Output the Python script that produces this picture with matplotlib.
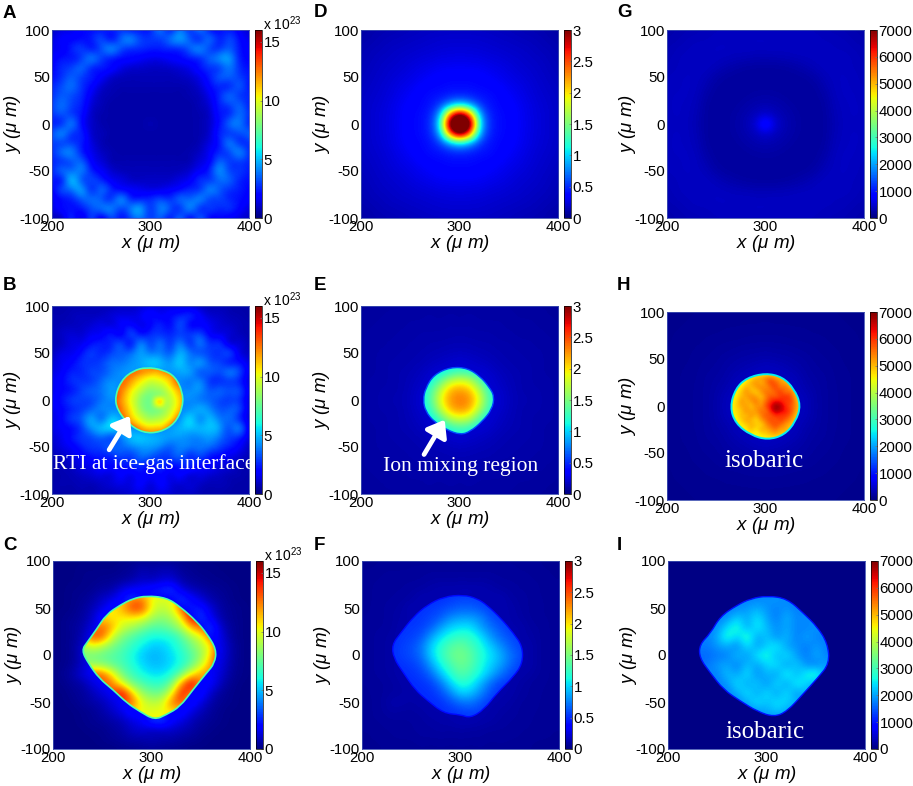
import numpy as np
import matplotlib
matplotlib.use('Agg')
import matplotlib.pyplot as plt
from matplotlib.path import Path
from matplotlib.patches import PathPatch

plt.rcParams['font.family'] = ['Liberation Sans', 'DejaVu Sans']
plt.rcParams['axes.unicode_minus'] = False
plt.rcParams['mathtext.default'] = 'regular'

# values, rows y=100..-100, columns x=200..400, steps of 10 um
# A,B,C in 1e22, D,E,F in 0.01, G,H,I in 10
panel_a = [
[10,14,16,20,22,24,24,28,26,24,26,36,28,38,30,36,26,22,24,18,12],
[14,18,20,22,24,30,26,34,38,30,28,30,36,42,34,30,34,26,30,22,16],
[16,18,24,28,26,32,38,32,28,26,24,24,26,28,34,38,32,30,34,24,18],
[18,22,24,30,36,30,26,22,20,18,16,16,18,20,24,28,34,40,42,26,20],
[20,26,30,34,28,24,20,15,12,11,10,10,11,13,16,22,28,32,38,28,22],
[22,28,34,30,24,18,12,9,8,8,8,8,8,9,11,16,24,32,34,30,24],
[26,32,36,28,20,12,8,7,7,7,7,7,7,7,8,12,20,26,28,32,24],
[28,34,32,26,16,9,7,6,6,6,6,6,6,6,7,9,16,26,34,30,26],
[30,36,30,24,13,8,6,6,6,6,6,6,6,6,6,8,13,24,30,34,26],
[28,32,30,22,11,7,6,6,6,6,6,6,6,6,6,7,11,22,28,36,28],
[26,30,36,22,11,7,6,6,6,6,7,6,6,6,6,7,11,22,34,38,28],
[32,38,30,24,12,8,6,6,6,6,6,6,6,6,6,7,12,24,30,32,34],
[30,32,30,24,14,8,6,6,6,6,6,6,6,6,6,8,14,24,36,30,28],
[28,36,38,26,16,10,7,6,6,6,6,6,6,6,7,10,17,26,32,38,28],
[26,30,34,34,20,13,8,7,7,7,7,7,7,7,8,13,20,34,30,30,26],
[26,34,38,38,26,18,12,9,8,8,8,8,8,9,12,18,26,40,32,28,24],
[24,28,46,36,30,26,18,14,11,10,10,10,11,14,18,26,30,36,34,26,22],
[20,30,38,42,30,34,26,22,18,16,15,16,18,22,26,30,38,34,28,24,20],
[16,22,26,34,36,34,30,38,28,26,26,30,28,34,36,38,32,30,26,22,18],
[14,20,22,24,32,36,38,32,38,42,30,38,32,30,38,30,28,26,26,20,14],
[9,12,24,16,28,20,30,24,32,38,30,34,26,34,24,32,22,20,18,14,10],
]
panel_b = [
[6,6,7,7,8,8,8,10,10,12,14,14,14,14,13,10,8,8,7,6,6],
[7,7,8,9,9,10,12,14,14,16,20,18,20,24,24,18,12,10,8,7,6],
[7,8,9,10,12,14,14,18,20,16,20,24,22,30,22,20,16,12,10,8,7],
[8,10,12,12,16,18,22,20,28,24,26,28,26,30,28,30,20,16,12,9,7],
[8,10,14,16,22,24,26,30,26,38,32,36,30,38,30,36,28,26,16,12,8],
[9,14,16,22,28,26,30,34,36,44,40,40,36,46,38,34,30,28,28,16,10],
[12,16,20,26,28,30,36,38,42,46,50,48,44,50,42,42,34,30,26,22,14],
[14,18,24,26,30,32,38,42,44,44,44,44,44,46,44,36,34,32,36,30,16],
[16,20,26,28,30,36,42,42,42,42,42,42,42,42,40,40,30,28,30,26,14],
[16,20,24,30,34,38,44,42,42,42,42,42,42,42,42,42,34,34,32,30,16],
[18,22,28,30,32,38,42,42,42,42,42,42,42,42,42,40,36,32,30,28,14],
[16,20,26,30,36,40,42,42,42,42,42,42,42,42,44,46,42,34,34,30,14],
[14,20,28,34,44,40,50,46,42,42,42,42,42,44,52,44,48,40,36,28,14],
[14,18,22,30,42,48,52,48,44,42,42,42,44,48,50,48,50,44,34,36,16],
[12,16,22,28,32,36,34,40,48,50,48,46,44,44,42,42,44,38,30,26,14],
[10,14,18,24,28,30,34,36,40,44,44,40,36,40,38,38,36,30,24,18,10],
[8,10,14,18,22,24,26,30,30,36,34,30,30,34,28,30,24,20,16,12,8],
[7,8,10,14,16,20,20,22,24,26,22,26,22,24,24,20,18,14,12,8,7],
[6,7,8,10,12,14,14,18,16,20,18,20,16,18,14,14,12,10,8,7,6],
[6,7,7,8,8,10,12,14,14,18,14,18,14,12,12,10,8,8,7,6,6],
[6,6,6,7,7,8,8,10,12,14,12,14,12,10,10,8,7,7,6,6,6],
]
panel_c = [
[1,1,1,1,1,1,1,2,2,3,3,3,3,2,2,1,1,1,1,1,1],
[1,1,1,2,2,2,2,3,4,8,6,8,8,4,3,2,2,1,1,1,1],
[1,1,1,2,2,3,3,4,6,10,8,12,12,6,4,3,2,2,1,1,1],
[1,1,2,2,3,5,6,14,18,20,24,26,30,14,8,6,4,3,2,1,1],
[1,1,2,3,5,10,14,22,30,18,18,18,18,30,20,12,6,4,2,1,1],
[1,1,2,4,8,14,24,20,18,18,18,18,18,18,24,24,12,5,3,2,1],
[1,2,3,5,10,24,18,18,18,18,18,18,18,18,18,30,16,6,3,2,1],
[1,2,4,6,14,18,18,18,18,18,18,18,18,18,18,18,30,10,4,2,1],
[1,2,3,8,18,18,18,18,18,18,18,18,18,18,18,18,24,14,4,2,1],
[1,2,4,10,18,18,18,18,18,18,18,18,18,18,18,18,18,16,6,2,1],
[1,2,3,12,18,18,18,18,18,18,18,18,18,18,18,18,18,16,6,2,1],
[1,2,4,10,18,18,18,18,18,18,18,18,18,18,18,18,18,14,5,2,1],
[1,3,6,14,18,18,18,18,18,18,18,18,18,18,18,18,18,12,4,2,1],
[1,2,4,6,14,18,18,18,18,18,18,18,18,18,18,18,20,8,3,1,1],
[1,1,3,4,8,14,18,18,18,18,18,18,18,18,18,24,10,4,2,1,1],
[1,1,2,4,6,8,14,18,18,18,18,18,18,18,24,14,6,3,2,1,1],
[1,1,1,2,3,6,10,16,24,18,18,18,18,24,14,8,4,2,1,1,1],
[1,1,1,2,3,4,6,8,14,18,30,32,20,14,8,5,3,2,1,1,1],
[1,1,1,1,2,2,4,6,10,12,8,10,10,8,6,3,2,1,1,1,1],
[1,1,1,1,1,2,3,4,6,6,8,6,6,4,3,2,1,1,1,1,1],
[1,1,1,1,1,1,1,2,2,3,3,3,2,2,1,1,1,1,1,1,1],
]
panel_d = [
[10,12,13,14,15,16,17,18,18,19,19,19,18,18,17,16,15,14,13,12,10],
[12,13,15,16,17,18,19,20,21,21,21,21,21,20,19,18,17,16,15,13,12],
[13,15,16,18,19,20,21,22,23,24,24,24,23,22,21,20,19,18,16,15,13],
[14,16,18,19,21,22,24,25,27,27,28,27,27,25,24,22,21,19,18,16,14],
[15,17,19,21,22,25,27,29,31,32,32,32,31,29,27,25,22,21,19,17,15],
[16,18,20,22,25,27,30,33,36,38,38,38,36,33,30,27,25,22,20,18,16],
[17,19,21,24,27,30,34,38,39,40,40,40,39,38,34,30,27,24,21,19,17],
[18,20,22,25,29,33,38,41,42,46,48,46,42,41,38,33,29,25,22,20,18],
[18,21,23,27,31,36,39,42,55,85,105,85,55,42,39,36,31,27,23,21,18],
[19,21,24,27,32,38,40,46,85,250,345,250,85,46,40,38,32,27,24,21,19],
[19,21,24,28,32,38,40,48,105,345,380,345,105,48,40,38,32,28,24,21,19],
[19,21,24,27,32,38,40,46,85,250,345,250,85,46,40,38,32,27,24,21,19],
[18,21,23,27,31,36,39,42,55,85,105,85,55,42,39,36,31,27,23,21,18],
[18,20,22,25,29,33,38,41,42,46,48,46,42,41,38,33,29,25,22,20,18],
[17,19,21,24,27,30,34,38,39,40,40,40,39,38,34,30,27,24,21,19,17],
[16,18,20,22,25,27,30,33,36,38,38,38,36,33,30,27,25,22,20,18,16],
[15,17,19,21,22,25,27,29,31,32,32,32,31,29,27,25,22,21,19,17,15],
[14,16,18,19,21,22,24,25,27,27,28,27,27,25,24,22,21,19,18,16,14],
[13,15,16,18,19,20,21,22,23,24,24,24,23,22,21,20,19,18,16,15,13],
[12,13,15,16,17,18,19,20,21,21,21,21,21,20,19,18,17,16,15,13,12],
[10,12,13,14,15,16,17,18,18,19,19,19,18,18,17,16,15,14,13,12,10],
]
panel_e = [
[8,8,9,9,9,10,10,10,9,10,10,10,9,10,10,9,9,9,8,8,8],
[8,9,9,10,10,10,10,11,10,11,10,11,10,10,10,10,9,9,9,8,8],
[9,9,10,10,10,11,11,11,11,12,11,12,11,11,11,10,10,10,9,9,8],
[9,10,10,10,11,11,12,12,12,12,13,12,12,12,11,11,10,10,10,9,9],
[9,10,10,11,11,12,12,13,13,14,14,14,13,13,12,12,11,11,10,10,9],
[9,10,11,11,12,12,13,14,15,16,17,16,15,14,13,12,12,11,11,10,9],
[10,10,11,12,12,13,14,16,18,20,22,20,18,16,14,13,12,12,11,10,10],
[10,10,11,12,13,14,16,20,22,22,22,22,22,20,16,14,13,12,11,10,10],
[10,11,11,12,13,15,18,22,22,22,22,22,22,22,18,15,13,12,11,11,10],
[10,11,12,12,13,16,20,22,22,22,22,22,22,22,20,16,13,12,12,11,10],
[10,11,12,13,14,16,22,22,22,22,22,22,22,22,22,16,14,13,12,11,10],
[10,11,12,12,13,16,20,22,22,22,22,22,22,22,20,16,13,12,12,11,10],
[10,11,11,12,13,15,18,22,22,22,22,22,22,22,18,15,13,12,11,11,10],
[10,10,11,12,13,14,16,20,22,22,22,22,22,20,16,14,13,12,11,10,10],
[10,10,11,12,12,13,14,16,18,20,22,20,18,16,14,13,12,12,11,10,10],
[9,10,11,11,12,12,13,14,15,16,17,16,15,14,13,12,12,11,11,10,9],
[9,10,10,11,11,12,12,13,13,14,14,14,13,13,12,12,11,11,10,10,9],
[9,10,10,10,11,11,12,12,12,12,13,12,12,12,11,11,10,10,10,9,9],
[9,9,10,10,10,11,11,11,11,12,11,12,11,11,11,10,10,10,9,9,8],
[8,9,9,10,10,10,10,11,10,11,10,11,10,10,10,10,9,9,9,8,8],
[8,8,9,9,9,10,10,10,9,10,10,10,9,10,10,9,9,9,8,8,8],
]
panel_f = [
[5,5,6,6,6,7,6,7,6,7,6,7,6,7,6,7,6,6,6,5,5],
[6,6,7,7,7,7,8,8,8,8,8,8,8,8,8,8,7,7,6,6,5],
[6,7,7,8,8,8,8,9,10,9,10,9,10,9,8,8,8,7,7,6,6],
[6,7,8,8,8,9,10,12,13,13,14,14,13,12,10,9,8,8,7,6,6],
[6,7,8,8,9,10,14,12,12,12,12,12,12,12,14,10,9,8,7,7,6],
[7,7,8,9,10,14,12,12,12,12,12,12,12,12,12,12,9,8,7,7,6],
[7,7,8,9,11,12,12,12,12,12,12,12,12,12,12,12,10,8,7,7,6],
[7,8,8,9,12,12,12,12,12,12,12,12,12,12,12,12,12,9,8,7,6],
[7,8,9,10,12,12,12,12,12,12,12,12,12,12,12,12,12,10,8,7,6],
[7,8,9,10,12,12,12,12,12,12,12,12,12,12,12,12,12,12,8,7,6],
[7,8,9,10,12,12,12,12,12,12,12,12,12,12,12,12,12,12,8,7,6],
[7,8,9,10,12,12,12,12,12,12,12,12,12,12,12,12,12,12,8,7,6],
[7,8,9,10,12,12,12,12,12,12,12,12,12,12,12,12,12,10,8,7,6],
[7,7,8,9,11,12,12,12,12,12,12,12,12,12,12,12,10,8,7,7,6],
[7,7,8,9,10,12,12,12,12,12,12,12,12,12,12,12,9,8,7,7,6],
[6,7,8,12,12,10,12,12,12,12,12,12,12,12,12,10,8,8,7,6,6],
[6,7,8,10,9,9,10,12,12,12,12,12,12,12,10,9,8,7,7,6,6],
[6,7,7,8,8,8,9,10,11,12,14,14,12,11,9,8,8,7,7,6,6],
[6,6,7,7,8,8,9,9,10,9,10,9,9,8,8,8,7,7,6,6,6],
[5,6,6,7,7,7,8,8,8,8,8,8,8,7,8,7,7,6,6,6,5],
[5,5,6,6,6,6,7,6,7,6,7,6,7,6,6,6,6,6,5,5,5],
]
panel_g = [
[28,30,32,34,36,38,38,40,40,38,38,38,40,40,38,38,36,34,32,30,28],
[30,32,36,38,38,40,40,42,40,42,42,40,42,40,40,40,38,38,36,32,30],
[32,36,38,40,40,42,42,40,42,40,40,42,40,42,42,40,40,38,38,36,32],
[34,38,40,40,42,40,38,36,34,32,32,32,34,36,38,40,42,40,40,38,34],
[36,38,40,42,40,36,30,25,22,21,20,21,22,25,30,36,40,42,40,38,36],
[38,40,42,40,36,26,21,20,19,19,19,19,19,20,21,26,36,40,42,40,36],
[38,40,42,40,30,21,20,19,19,20,20,20,19,19,20,21,30,40,42,40,38],
[40,42,42,38,25,20,19,19,21,24,25,24,21,19,19,20,25,38,42,42,38],
[40,42,40,36,22,19,19,21,26,30,32,30,26,21,19,19,22,36,40,42,40],
[40,42,40,34,21,19,20,24,30,36,52,36,30,24,20,19,21,34,40,42,40],
[40,40,40,32,21,19,20,25,32,52,125,52,32,25,20,19,21,32,40,40,40],
[40,42,40,34,21,19,20,24,30,36,52,36,30,24,20,19,21,34,40,42,40],
[40,42,40,36,22,19,19,21,26,30,32,30,26,21,19,19,22,36,40,42,40],
[40,42,42,38,25,20,19,19,21,24,25,24,21,19,19,20,25,38,42,42,38],
[38,40,42,40,30,21,20,19,19,20,20,20,19,19,20,21,30,40,42,40,38],
[38,40,42,40,36,26,21,20,19,19,19,19,19,20,21,26,36,40,42,40,36],
[36,38,40,42,40,36,30,25,22,21,20,21,22,25,30,36,40,42,40,38,36],
[34,38,40,40,42,40,38,36,34,32,32,32,34,36,38,40,42,40,40,38,34],
[32,36,38,40,40,42,42,40,42,40,40,42,40,42,42,40,40,38,38,36,32],
[30,32,36,38,38,40,40,42,40,42,42,40,42,40,40,40,38,38,36,32,30],
[28,30,32,34,36,38,38,40,40,38,38,38,40,40,38,38,36,34,32,30,28],
]
panel_h = [
[10,10,10,11,11,12,12,12,12,12,12,12,12,12,12,12,11,11,10,10,10],
[10,10,11,12,12,12,13,13,13,13,14,13,13,13,13,12,12,12,11,10,10],
[10,11,12,12,13,13,14,14,15,15,15,15,15,14,14,13,13,12,12,11,10],
[10,12,12,13,14,15,16,16,17,18,18,18,17,16,16,15,14,13,12,12,10],
[11,12,13,14,15,17,18,20,22,22,24,22,22,20,18,17,15,14,13,12,11],
[11,12,13,15,17,18,22,24,26,28,30,28,26,24,22,18,17,15,13,12,11],
[11,13,14,16,18,20,24,28,32,36,40,38,34,28,24,20,18,16,14,13,11],
[12,13,15,16,20,22,26,34,38,40,40,40,38,36,26,22,20,16,15,13,12],
[12,13,15,17,20,24,30,38,40,40,40,40,40,38,30,24,20,17,15,13,12],
[12,13,15,17,20,26,36,40,40,40,40,40,40,40,36,26,20,17,15,13,12],
[12,13,15,17,20,26,38,40,40,40,40,40,40,40,38,26,20,17,15,13,12],
[12,13,15,17,20,26,36,40,40,40,40,40,40,40,36,26,20,17,15,13,12],
[12,13,15,17,20,24,30,38,40,40,40,40,40,38,30,24,20,17,15,13,12],
[12,13,15,16,20,22,26,34,38,40,40,40,38,36,26,22,20,16,15,13,12],
[11,13,14,16,18,20,24,28,32,38,40,38,34,28,24,20,18,16,14,13,11],
[11,12,13,15,17,18,22,24,26,28,30,28,26,24,22,18,17,15,13,12,11],
[11,12,13,14,15,17,18,20,22,22,24,22,22,20,18,17,15,14,13,12,11],
[10,12,12,13,14,15,16,16,17,18,18,18,17,16,16,15,14,13,12,12,10],
[10,11,12,12,13,13,14,14,15,15,15,15,15,14,14,13,13,12,12,11,10],
[10,10,11,12,12,12,13,13,13,13,14,13,13,13,13,12,12,12,11,10,10],
[10,10,10,11,11,12,12,12,12,12,12,12,12,12,12,12,11,11,10,10,10],
]
panel_i = [[4] * 21 for row in range(21)]

# inner regions, drawn over the panels and cut along the outlines below
# B and H: x=260..340, y=40..-40, steps of 5 um
core_b = [
[115,115,115,115,115,115,115,118,118,118,118,118,118,115,115,115,115],
[115,115,115,115,115,120,118,120,125,125,125,120,120,125,120,115,115],
[115,115,115,115,130,128,125,120,118,115,120,125,128,135,130,115,115],
[115,115,115,130,125,118,112,108,105,105,108,112,118,128,140,125,115],
[115,115,130,125,118,110,105,100,95,98,100,105,112,125,135,130,115],
[115,120,128,122,112,105,98,92,88,90,92,98,108,118,125,125,118],
[115,130,125,115,105,98,92,85,82,85,85,92,100,110,118,122,118],
[120,135,122,112,102,95,85,80,78,80,82,88,95,105,115,120,118],
[125,130,120,110,100,92,82,78,76,105,115,90,92,102,112,120,118],
[125,130,122,112,102,92,82,78,76,100,110,85,92,102,112,125,118],
[120,135,125,115,105,95,85,78,78,78,80,88,95,105,115,128,118],
[115,125,128,118,108,98,90,85,80,82,85,90,100,110,122,132,118],
[115,120,135,122,112,105,98,90,88,90,92,98,105,118,135,130,115],
[115,115,125,135,120,112,105,100,98,100,100,108,118,138,148,120,115],
[115,115,115,130,145,128,118,112,110,112,112,118,130,145,135,115,115],
[115,115,115,115,130,140,130,125,122,122,125,128,135,130,120,115,115],
[115,115,115,115,115,120,125,125,125,125,125,125,125,120,115,115,115],
]
core_h = [
[430,430,430,430,430,430,430,430,430,430,430,430,430,430,430,430,430],
[430,430,430,430,430,430,440,440,450,450,450,450,440,430,430,430,430],
[430,430,430,430,440,470,500,520,540,560,520,500,480,440,430,430,430],
[430,430,430,440,470,510,530,500,540,590,570,530,510,470,440,430,430],
[430,430,440,460,510,490,520,540,520,560,590,540,560,500,450,430,430],
[430,430,450,490,530,500,480,520,560,540,570,600,540,570,480,440,430],
[430,440,460,500,510,540,520,490,540,580,560,590,610,580,510,450,430],
[440,450,470,530,500,520,550,510,560,600,640,620,590,600,530,460,440],
[440,450,480,510,520,490,530,520,580,640,690,670,610,570,540,470,440],
[440,450,470,490,530,510,520,560,540,620,680,650,620,590,520,470,440],
[430,440,460,500,490,530,500,540,580,560,610,590,600,560,500,450,430],
[430,430,450,480,520,500,470,520,550,590,560,600,560,530,480,440,430],
[430,430,440,460,480,510,490,470,530,560,590,550,520,500,460,430,430],
[430,430,430,440,460,500,460,510,500,530,550,510,520,470,440,430,430],
[430,430,430,430,440,460,440,470,480,500,510,490,470,440,430,430,430],
[430,430,430,430,430,430,440,430,450,450,450,450,440,430,430,430,430],
[430,430,430,430,430,430,430,430,430,430,430,430,430,430,430,430,430],
]
# E: x=260..340, y=40..-40, steps of 10 um
core_e = [
[95,95,100,105,110,105,100,95,95],
[95,100,105,115,125,120,110,100,95],
[100,110,135,170,185,175,140,105,100],
[105,125,170,215,225,215,170,125,105],
[105,130,185,225,235,230,190,130,110],
[105,120,170,215,230,220,170,125,105],
[100,105,130,170,185,175,135,105,100],
[95,100,105,120,130,125,105,100,95],
[95,95,100,105,110,105,100,95,95],
]
# C, F, I: x=220..380, y=70..-70, steps of 10 um
core_c = [
[95,95,95,95,95,95,95,100,110,105,95,95,95,95,95,95,95],
[95,95,95,95,95,110,125,125,100,98,100,120,135,120,95,95,95],
[95,95,95,100,105,115,135,135,100,92,98,130,150,130,100,95,95],
[95,95,100,110,105,105,105,100,88,82,88,105,150,140,115,95,95],
[95,100,120,130,115,95,88,80,72,72,78,90,115,130,130,110,95],
[95,110,135,130,95,80,72,65,60,60,62,72,88,100,130,130,95],
[90,85,100,90,80,72,65,58,52,52,58,66,78,90,105,140,110],
[80,78,78,75,72,68,60,52,48,50,55,62,72,85,110,150,120],
[85,85,85,82,75,70,62,55,50,50,55,62,75,95,120,145,110],
[100,110,135,130,105,78,68,60,56,56,62,78,105,120,125,100,95],
[95,100,115,135,125,100,78,72,65,65,78,120,155,120,95,95,95],
[95,95,100,110,135,150,110,85,78,78,100,145,125,100,95,95,95],
[95,95,95,100,105,140,130,100,92,95,125,135,105,95,95,95,95],
[95,95,95,95,95,105,105,100,100,102,105,105,95,95,95,95,95],
[95,95,95,95,95,95,100,105,105,105,100,95,95,95,95,95,95],
]
core_f = [
[50,50,50,50,50,50,50,50,50,50,50,50,50,50,50,50,50],
[50,50,50,50,50,50,52,55,58,58,55,52,50,50,50,50,50],
[50,50,50,50,52,55,58,62,66,66,62,56,52,50,50,50,50],
[50,50,50,52,54,58,65,80,85,85,78,62,56,52,50,50,50],
[50,50,52,54,56,65,85,100,105,105,85,72,62,54,50,50,50],
[50,50,54,56,62,85,105,118,125,120,105,82,68,60,54,50,50],
[50,50,56,60,72,100,120,135,142,130,115,98,80,65,58,52,50],
[50,52,56,60,70,100,122,142,148,138,118,105,90,72,60,54,50],
[50,50,52,55,62,85,112,130,145,135,115,100,85,68,56,52,50],
[50,50,50,52,56,68,95,118,135,125,110,90,72,58,52,50,50],
[50,50,50,50,52,56,72,100,118,112,90,68,55,52,50,50,50],
[50,50,50,50,50,52,60,78,100,95,78,60,52,50,50,50,50],
[50,50,50,50,50,50,52,60,70,72,62,52,50,50,50,50,50],
[50,50,50,50,50,50,50,52,55,58,55,50,50,50,50,50,50],
[50,50,50,50,50,50,50,50,50,50,50,50,50,50,50,50,50],
]
core_i = [
[175,175,175,175,175,175,175,175,175,175,175,175,175,175,175,175,175],
[175,175,175,175,175,175,175,180,185,195,180,175,175,175,175,175,175],
[175,175,175,175,175,180,195,210,190,175,190,175,175,175,175,175,175],
[175,175,175,180,185,235,200,250,200,170,215,175,190,175,175,175,175],
[175,175,180,185,240,280,195,260,215,185,205,180,175,195,175,175,175],
[175,175,175,205,285,225,295,195,230,180,220,170,205,175,175,175,175],
[175,175,170,195,205,175,250,195,230,260,195,190,170,195,175,170,175],
[175,160,160,170,175,225,185,250,275,205,250,195,170,210,175,170,175],
[175,160,170,195,205,170,225,195,235,250,190,235,185,170,210,175,175],
[175,175,180,175,225,195,250,180,220,190,275,205,265,290,190,175,175],
[175,175,175,175,190,250,195,235,180,250,190,265,230,195,175,175,175],
[175,175,175,175,175,205,250,195,250,190,250,185,220,175,175,175,175],
[175,175,175,175,175,175,205,250,215,250,230,215,175,175,175,175,175],
[175,175,175,175,175,175,175,185,205,220,205,175,175,175,175,175,175],
[175,175,175,175,175,175,175,175,175,175,175,175,175,175,175,175,175],
]

outline_b_x = [296,282,270.5,264,266,277,292.5,309.5,325,333,332.5,325,313]
outline_b_y = [35,31,21,4,-10,-25,-35,-34.5,-25,-7,9,25,32]
outline_c_x = [295,315,329,346,356,366,364,356,342,329,315,303,288,275,261,247,236,229,235,244,254,268,281]
outline_c_y = [63,61,51.5,35.6,23,6,-9,-19,-37,-55,-63.5,-69,-60,-51,-37,-25,-9,5,14,27,43,53,60]
outline_e_x = [291,308,321,330,335.5,333,323,311,301,287.5,274,265.5,263,265.5,274]
outline_e_y = [35,34,25,14,4,-10,-23,-33.5,-37,-32,-23,-12,0,12.5,27]
outline_f_x = [303,283,266,252.5,239,230.5,232,242,254,266,283,300,310,324,337,354,363,363,354,341,327,317]
outline_f_y = [64,62,53,41,23,11,-3,-19,-37,-48,-62,-63.5,-67,-58,-40.5,-23,-9,9,23,39,53,60]
outline_h_x = [300,281,269.5,264,269.5,285,302,319,330.5,336,329,317]
outline_h_y = [35,30,18.5,-1,-18.5,-31,-36,-31,-17,1,18.5,31]
outline_i_x = [301,321,338,351.5,362,364,351.5,338,321,307.5,290.5,273.5,256.5,243,232,232,243,253,270,284]
outline_i_y = [63,60,44,30,12.5,-9,-25,-40.5,-60,-66,-60,-49,-37,-19,-3,11,23,41,53,60]

x_ticks = [200, 300, 400]
y_ticks = [-100, -50, 0, 50, 100]
density_ticks = [0, 5, 10, 15]
ratio_ticks = [0, 0.5, 1, 1.5, 2, 2.5, 3]
ratio_labels = ['0', '0.5', '1', '1.5', '2', '2.5', '3']
temp_ticks = [0, 1000, 2000, 3000, 4000, 5000, 6000, 7000]

W, H = 913, 786
fig = plt.figure(figsize=(W / 100, H / 100), dpi=100)

def box(left, top, right, bottom):
    return [left / W, 1 - bottom / H, (right - left) / W, (bottom - top) / H]

# rounded closed path, the outline points act as bezier control points
def rounded(ox, oy):
    pts = np.column_stack([ox, oy])
    mids = (pts + np.roll(pts, -1, axis=0)) / 2
    verts = [mids[-1]]
    codes = [Path.MOVETO]
    for p, m in zip(pts, mids):
        verts += [p, m]
        codes += [Path.CURVE3, Path.CURVE3]
    return Path(verts, codes)

# letter, data, scale, vmax, ticks, tick labels, left px, top px
panels = [
    ('A', panel_a, 0.1, 16, density_ticks, None, 52, 30),
    ('B', panel_b, 0.1, 16, density_ticks, None, 52, 306),
    ('C', panel_c, 0.1, 16, density_ticks, None, 53, 561),
    ('D', panel_d, 0.01, 3, ratio_ticks, ratio_labels, 361, 30),
    ('E', panel_e, 0.01, 3, ratio_ticks, ratio_labels, 361, 306),
    ('F', panel_f, 0.01, 3, ratio_ticks, ratio_labels, 362, 561),
    ('G', panel_g, 10, 7000, temp_ticks, None, 667, 30),
    ('H', panel_h, 10, 7000, temp_ticks, None, 667, 312),
    ('I', panel_i, 10, 7000, temp_ticks, None, 668, 561),
]
# core data, outline, x range, y top, step, value of the thin rim, rim width
cores = {
    'B': (core_b, outline_b_x, outline_b_y, 260, 340, 40, 5, 7, 1.2),
    'C': (core_c, outline_c_x, outline_c_y, 220, 380, 70, 10, 7, 1.2),
    'E': (core_e, outline_e_x, outline_e_y, 260, 340, 40, 10, 0.6, 1.0),
    'F': (core_f, outline_f_x, outline_f_y, 220, 380, 70, 10, 0.4, 1.0),
    'H': (core_h, outline_h_x, outline_h_y, 260, 340, 40, 5, 2500, 1.4),
    'I': (core_i, outline_i_x, outline_i_y, 220, 380, 70, 10, 1000, 1.0),
}
letter_pos = {'A': (3, 18), 'B': (3, 290), 'C': (3, 550), 'D': (314, 17), 'E': (314, 290),
              'F': (314, 550), 'G': (617, 17), 'H': (617, 290), 'I': (617, 550)}

axes = {}
for letter, data, scale, vmax, ticks, labels, left, top in panels:
    ax = fig.add_axes(box(left, top, left + 197, top + 188))
    smooth = 'lanczos' if letter in 'AB' else 'bicubic'
    im = ax.imshow(np.array(data) * scale, cmap='jet', vmin=0, vmax=vmax, aspect='auto',
                   extent=(195, 405, -105, 105), interpolation=smooth,
                   interpolation_stage='data')
    if letter in cores:
        core, ox, oy, x0, x1, y0, step, rim, rim_w = cores[letter]
        inner = ax.imshow(np.array(core) * scale, cmap='jet', vmin=0, vmax=vmax, aspect='auto',
                          extent=(x0 - step / 2, x1 + step / 2, -y0 - step / 2, y0 + step / 2),
                          interpolation='bicubic', interpolation_stage='data', zorder=2)
        edge = PathPatch(rounded(ox, oy), fill=False, ec=plt.cm.jet(rim / vmax), lw=rim_w,
                         transform=ax.transData, zorder=3)
        ax.add_patch(edge)
        inner.set_clip_path(edge)
    ax.set_xlim(200, 400)
    ax.set_ylim(-100, 100)
    ax.set_xticks(x_ticks)
    ax.set_yticks(y_ticks)
    ax.tick_params(length=0, labelsize=10.8, pad=1.5)
    for s in ax.spines.values():
        s.set_linewidth(0.6)
        s.set_color('#3d4fb0')
    ax.set_xlabel('x ($\\mu$ m)', fontsize=13.5, style='italic')
    ax.set_ylabel('y ($\\mu$ m)', fontsize=13.5, style='italic')
    ax.xaxis.set_label_coords(0.5, -0.135)
    ax.yaxis.set_label_coords(-0.2, 0.5)
    ax.xaxis.label.set_verticalalignment('center')
    ax.yaxis.label.set_verticalalignment('center')

    cax = fig.add_axes(box(left + 203, top, left + 210, top + 188))
    cb = fig.colorbar(im, cax=cax, ticks=ticks)
    if labels:
        cb.ax.set_yticklabels(labels)
    cb.ax.tick_params(length=1.5, direction='in', labelsize=10.8, pad=1, width=0.5, color='#777777')
    cb.outline.set_linewidth(0.5)
    if scale == 0.1:
        fig.text((left + 211) / W, 1 - (top - 6) / H, 'x 10$^{23}$', fontsize=10, va='center')

    px, py = letter_pos[letter]
    fig.text(px / W, 1 - py / H, letter, fontsize=13.5, fontweight='bold', va='baseline')
    axes[letter] = ax

serif = 'Liberation Serif'
axes['B'].text(303.5, -68, 'RTI at ice-gas interface', color='white', family=serif, fontsize=15.5,
               ha='center', va='center', clip_on=False, zorder=5)
axes['E'].text(301.5, -71, 'Ion mixing region', color='white', family=serif, fontsize=15.5,
               ha='center', va='center', zorder=5)
axes['H'].text(299, -58.5, 'isobaric', color='white', family=serif, fontsize=18, ha='center', va='center', zorder=5)
axes['I'].text(298, -82, 'isobaric', color='white', family=serif, fontsize=18, ha='center', va='center', zorder=5)

arrow = dict(arrowstyle='-|>,head_length=0.6,head_width=0.45', color='white', lw=3.4, mutation_scale=16,
             shrinkA=0, shrinkB=0, zorder=5)
axes['B'].annotate('', xy=(279, -17), xytext=(258, -53), arrowprops=arrow)
axes['E'].annotate('', xy=(285, -21), xytext=(264, -58), arrowprops=arrow)

fig.savefig('out.png', dpi=100)
